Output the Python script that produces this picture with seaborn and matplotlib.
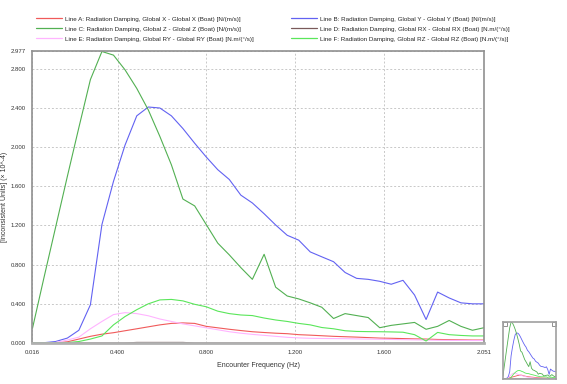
import numpy as np
import pandas as pd
import matplotlib
matplotlib.use("Agg")
import matplotlib.pyplot as plt
import seaborn as sns
from matplotlib.lines import Line2D

# encounter frequency grid (Hz)
freq = [0.016, 0.068, 0.120, 0.173, 0.225, 0.277, 0.329, 0.381, 0.433, 0.486,
        0.538, 0.590, 0.642, 0.694, 0.747, 0.799, 0.851, 0.903, 0.955, 1.007,
        1.060, 1.112, 1.164, 1.216, 1.268, 1.320, 1.373, 1.425, 1.477, 1.529,
        1.581, 1.633, 1.686, 1.738, 1.790, 1.842, 1.894, 1.947, 1.999, 2.051]

line_a = [0.000, 0.000, 0.002, 0.012, 0.040, 0.068, 0.090, 0.105, 0.125, 0.145,
          0.165, 0.185, 0.200, 0.205, 0.200, 0.170, 0.155, 0.140, 0.127, 0.115,
          0.107, 0.100, 0.095, 0.085, 0.080, 0.074, 0.068, 0.064, 0.060, 0.055,
          0.050, 0.048, 0.045, 0.042, 0.040, 0.036, 0.034, 0.032, 0.030, 0.030]
line_b = [0.000, 0.003, 0.015, 0.050, 0.130, 0.390, 1.210, 1.650, 2.020, 2.320,
          2.410, 2.400, 2.320, 2.190, 2.040, 1.900, 1.770, 1.670, 1.510, 1.430,
          1.320, 1.205, 1.100, 1.050, 0.930, 0.880, 0.830, 0.720, 0.660, 0.650,
          0.630, 0.600, 0.640, 0.490, 0.240, 0.520, 0.460, 0.410, 0.400, 0.400]
line_c = [0.150, 0.670, 1.180, 1.700, 2.200, 2.690, 2.977, 2.940, 2.790, 2.600,
          2.380, 2.110, 1.820, 1.470, 1.400, 1.210, 1.020, 0.900, 0.770, 0.650,
          0.906, 0.570, 0.480, 0.450, 0.410, 0.365, 0.250, 0.300, 0.280, 0.260,
          0.156, 0.180, 0.195, 0.210, 0.140, 0.170, 0.230, 0.170, 0.130, 0.156]
line_d = [0.000, 0.000, 0.000, 0.000, 0.000, 0.000, 0.000, 0.000, 0.000, 0.006,
          0.006, 0.006, 0.006, 0.006, 0.000, 0.000, 0.000, 0.000, 0.000, 0.000,
          0.000, 0.000, 0.000, 0.000, 0.000, 0.000, 0.000, 0.000, 0.000, 0.000,
          0.000, 0.000, 0.000, 0.000, 0.000, 0.000, 0.000, 0.000, 0.000, 0.000]
line_e = [0.000, 0.000, 0.005, 0.030, 0.060, 0.145, 0.220, 0.290, 0.310, 0.300,
          0.278, 0.245, 0.220, 0.195, 0.175, 0.155, 0.135, 0.115, 0.100, 0.088,
          0.078, 0.068, 0.058, 0.052, 0.048, 0.046, 0.045, 0.044, 0.042, 0.040,
          0.038, 0.036, 0.034, 0.032, 0.030, 0.028, 0.027, 0.026, 0.025, 0.025]
line_f = [0.000, 0.000, 0.000, 0.004, 0.015, 0.040, 0.072, 0.185, 0.270, 0.340,
          0.400, 0.440, 0.445, 0.430, 0.395, 0.370, 0.325, 0.300, 0.286, 0.280,
          0.255, 0.235, 0.220, 0.200, 0.185, 0.158, 0.145, 0.125, 0.118, 0.116,
          0.115, 0.113, 0.110, 0.085, 0.020, 0.108, 0.085, 0.077, 0.072, 0.072]

labels = ["Line A: Radiation Damping, Global X - Global X (Boat) [N/(m/s)]",
          "Line B: Radiation Damping, Global Y - Global Y (Boat) [N/(m/s)]",
          "Line C: Radiation Damping, Global Z - Global Z (Boat) [N/(m/s)]",
          "Line D: Radiation Damping, Global RX - Global RX (Boat) [N.m/(\u00b0/s)]",
          "Line E: Radiation Damping, Global RY - Global RY (Boat) [N.m/(\u00b0/s)]",
          "Line F: Radiation Damping, Global RZ - Global RZ (Boat) [N.m/(\u00b0/s)]"]
colors = ["#f05a5a", "#6262f2", "#52b052", "#7a5a5a", "#ffb4ff", "#5ae65a"]
xticks = [0.016, 0.4, 0.8, 1.2, 1.6, 2.051]
yticks = [0.0, 0.4, 0.8, 1.2, 1.6, 2.0, 2.4, 2.8, 2.977]

series = [line_a, line_b, line_c, line_d, line_e, line_f]
df = pd.concat([pd.DataFrame({"freq": freq, "value": s, "line": lab})
                for s, lab in zip(series, labels)], ignore_index=True)
pal = dict(zip(labels, colors))

sns.set_style("white")
plt.rcParams["font.family"] = ["Liberation Sans", "DejaVu Sans"]
fs = 4.5

fig = plt.figure(figsize=(5.67, 3.84), dpi=100)
ax = fig.add_axes([0.0573, 0.1068, 0.7963, 0.7591])
sns.lineplot(data=df, x="freq", y="value", hue="line", palette=pal, ax=ax,
             legend=False, linewidth=0.8)
ax.set_xlim(0.016, 2.051)
ax.set_ylim(0, 2.977)
ax.set_xticks(xticks)
ax.set_yticks(yticks)
ax.set_xticklabels([f"{v:.3f}" for v in xticks], fontsize=4.3, color="#333333")
ax.set_yticklabels([f"{v:.3f}" for v in yticks], fontsize=4.3, color="#333333")
ax.tick_params(direction="out", length=3, width=0.6, color="#888888", pad=2)
ax.grid(True, color="#c8c8c8", linestyle=(0, (2, 2)), linewidth=0.7)
for side in ["top", "right", "left"]:
    ax.spines[side].set_color("#909090")
    ax.spines[side].set_linewidth(1.2)
ax.spines["bottom"].set_color("#b0b0b0")
ax.spines["bottom"].set_linewidth(2)
ax.set_xlabel("Encounter Frequency (Hz)", fontsize=5, color="#333333")
ax.set_ylabel("[Inconsistent Units] (\u00d7 10^-4)", fontsize=5, color="#333333")
ax.xaxis.set_label_coords(0.5, -0.065)
ax.yaxis.set_label_coords(-0.054, 0.5)

handles = [Line2D([], [], color=c, lw=0.9) for c in colors]
leg_kw = dict(loc="upper left", frameon=False, fontsize=fs, handlelength=4.1,
              handletextpad=0.5, labelspacing=0.75, borderpad=0, borderaxespad=0)
fig.legend([handles[0], handles[2], handles[4]], [labels[0], labels[2], labels[4]],
           bbox_to_anchor=(0.064, 0.958), **leg_kw)
fig.legend([handles[1], handles[3], handles[5]], [labels[1], labels[3], labels[5]],
           bbox_to_anchor=(0.514, 0.958), **leg_kw)

# overview thumbnail
ins = fig.add_axes([0.887, 0.013, 0.0935, 0.148])
sns.lineplot(data=df, x="freq", y="value", hue="line", palette=pal, ax=ins,
             legend=False, linewidth=0.6)
ins.set_xlim(0.016, 2.051)
ins.set_ylim(0, 2.977)
ins.set_xticks([])
ins.set_yticks([])
ins.set_xlabel("")
ins.set_ylabel("")
for sp in ins.spines.values():
    sp.set_color("#a0a0a0")
    sp.set_linewidth(1.2)
ins.plot([0.03, 0.97], [0.97, 0.97], "s", transform=ins.transAxes, ms=2.5,
         mfc="white", mec="#808080", mew=0.6, clip_on=False)

fig.savefig("out.png", dpi=100)
